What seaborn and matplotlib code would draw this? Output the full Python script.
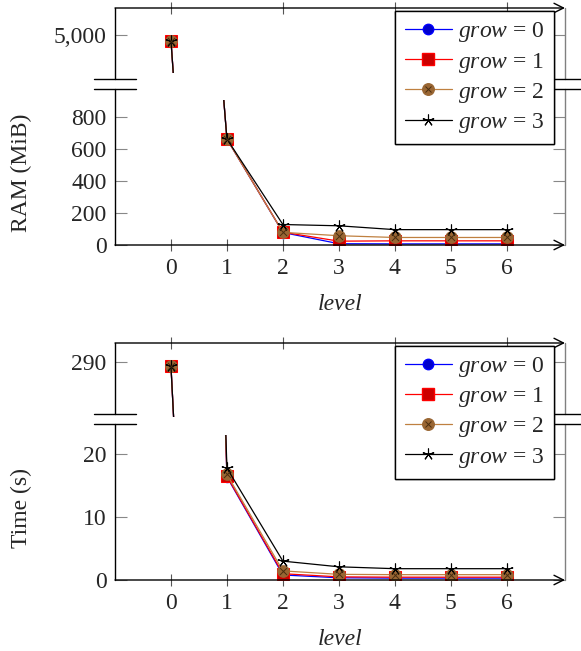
import matplotlib
matplotlib.use("Agg")
import matplotlib.pyplot as plt
from matplotlib.lines import Line2D
import seaborn as sns

sns.set_style('white')
plt.rcParams['font.family'] = ['Liberation Serif', 'DejaVu Serif']
plt.rcParams['mathtext.fontset'] = 'custom'
plt.rcParams['mathtext.rm'] = 'Liberation Serif'
plt.rcParams['mathtext.it'] = 'Liberation Serif:italic'
plt.rcParams['font.size'] = 17

# values
levels = [0, 1, 2, 3, 4, 5, 6]
grow_labels = ['$grow$ = 0', '$grow$ = 1', '$grow$ = 2', '$grow$ = 3']

ram_grow0 = [4968, 662, 78, 8, 7, 7, 7]
ram_grow1 = [4968, 662, 80, 24, 26, 26, 26]
ram_grow2 = [4968, 662, 79, 58, 47, 47, 47]
ram_grow3 = [4968, 662, 128, 120, 96, 96, 96]

time_grow0 = [288.9, 16.4, 0.8, 0.35, 0.3, 0.3, 0.3]
time_grow1 = [288.9, 16.5, 1.0, 0.5, 0.45, 0.45, 0.45]
time_grow2 = [288.9, 16.8, 1.45, 0.9, 0.85, 0.85, 0.85]
time_grow3 = [288.9, 17.8, 3.0, 2.1, 1.8, 1.8, 1.8]

ram_ticks_lo = [0, 200, 400, 600, 800]
ram_ticks_hi = [5000]
ram_ticklabels_hi = ['5,000']
time_ticks_lo = [0, 10, 20]
time_ticks_hi = [290]
time_ticklabels_hi = ['290']

# pgfplots-ish styles: line colour, marker, fill, edge, size
styles = [
    dict(color='#0000ff', marker='o', mfc='#0000cc', mec='#0000ff', ms=7.5),
    dict(color='#ff0000', marker='s', mfc='#cc0000', mec='#ff0000', ms=8.5),
    dict(color='#bf8040', marker='o', mfc='#996633', mec='#996633', ms=8.3),
    dict(color='black', marker=(5, 2, 0), mfc='black', mec='black', ms=8.5, mew=0.8),
]

W, H = 581, 651
fig = plt.figure(figsize=(W / 100, H / 100), dpi=100)


def fx(px):
    return px / W


def fy(px):
    return 1 - px / H


def vline(x, y0, y1, color):
    fig.add_artist(Line2D([fx(x), fx(x)], [fy(y0), fy(y1)], color=color, lw=1.0))


def hline(x0, x1, y):
    fig.add_artist(Line2D([fx(x0), fx(x1)], [fy(y), fy(y)], color='black', lw=1.0))


def draw_series(ax, series):
    for vals, st in zip(series, styles):
        sns.lineplot(x=levels, y=vals, ax=ax, lw=0.9, clip_on=True, **st)
        if st['mfc'] == '#996633':
            sns.scatterplot(x=levels, y=vals, ax=ax, marker='x', s=26,
                            color='#4a2e10', linewidth=0.7, zorder=3)


def panel(top, clip_up, brk1, brk2, clip_lo, bot, series, lim_hi, lim_lo,
          ticks_hi, labels_hi, ticks_lo, ylabel):
    left, right = 115, 565
    ax_hi = fig.add_axes([fx(left), fy(clip_up), fx(right) - fx(left), (clip_up - top) / H])
    ax_lo = fig.add_axes([fx(left), fy(bot), fx(right) - fx(left), (bot - clip_lo) / H])

    for ax in (ax_hi, ax_lo):
        draw_series(ax, series)
        ax.set_xlim(-1, 7.04)
        for s in ax.spines.values():
            s.set_visible(False)
        ax.tick_params(axis='y', which='both', direction='in', length=8.5, width=0.8,
                       color='#888888', left=True, right=True, pad=6)
        ax.set_xlabel('')
        ax.set_ylabel('')

    ax_hi.set_ylim(*lim_hi)
    ax_hi.set_yticks(ticks_hi)
    ax_hi.set_yticklabels(labels_hi)
    ax_hi.set_xticks([0, 2, 4, 6])
    ax_hi.tick_params(axis='x', direction='inout', length=8.5, width=0.8, color='#555555',
                      top=True, bottom=False, labeltop=False, labelbottom=False)
    ax_hi.annotate('', xy=(1, 1), xytext=(0, 1), xycoords='axes fraction',
                   arrowprops=dict(arrowstyle='->', lw=1.0, color='black', shrinkA=0, shrinkB=0))

    ax_lo.set_ylim(*lim_lo)
    ax_lo.set_yticks(ticks_lo)
    ax_lo.set_xticks(levels)
    ax_lo.tick_params(axis='x', direction='inout', length=8.5, width=0.8, color='#555555',
                      bottom=True, top=False, pad=5)
    ax_lo.annotate('', xy=(1, 0), xytext=(0, 0), xycoords='axes fraction',
                   arrowprops=dict(arrowstyle='->', lw=1.0, color='black', shrinkA=0, shrinkB=0))
    ax_lo.set_xlabel('level', style='italic', labelpad=11)
    ax_lo.set_ylabel(ylabel)
    ax_lo.yaxis.set_label_coords(-0.184, 0.5)

    # axis lines with the break
    vline(left, top, brk1, 'black')
    vline(left, brk2, bot, 'black')
    vline(right, top, brk1, '#808080')
    vline(right, brk2, bot, '#808080')
    for y in (brk1, brk2):
        hline(left - 21, left + 21, y)
        hline(right - 21, right + 21, y)
    return ax_hi, ax_lo


panel(8, 73.3, 79, 89.3, 100, 245,
      [ram_grow0, ram_grow1, ram_grow2, ram_grow3],
      (4791, 5144), (0, 906), ram_ticks_hi, ram_ticklabels_hi, ram_ticks_lo, 'RAM (MiB)')
panel(343, 417, 414.3, 424.3, 435, 580,
      [time_grow0, time_grow1, time_grow2, time_grow3],
      (276.2, 294.7), (0, 23.07), time_ticks_hi, time_ticklabels_hi, time_ticks_lo, 'Time (s)')

# legend proxies
handles = []
for st in styles:
    handles.append(Line2D([], [], lw=0.9, **st))
handles[2] = (handles[2], Line2D([], [], ls='', marker='x', ms=5, color='#4a2e10', mew=0.7))

for top_px in (11, 345.7):
    leg = fig.legend(handles, grow_labels, loc='upper right',
                     bbox_to_anchor=(fx(554), fy(top_px)), borderaxespad=0,
                     frameon=True, fancybox=False, framealpha=1, edgecolor='black',
                     handlelength=2.0, handletextpad=0.25, labelspacing=0.26,
                     borderpad=0.4, fontsize=17)
    leg.get_frame().set_linewidth(1.0)
    fig.add_artist(leg)

fig.savefig('out.png', dpi=100)
